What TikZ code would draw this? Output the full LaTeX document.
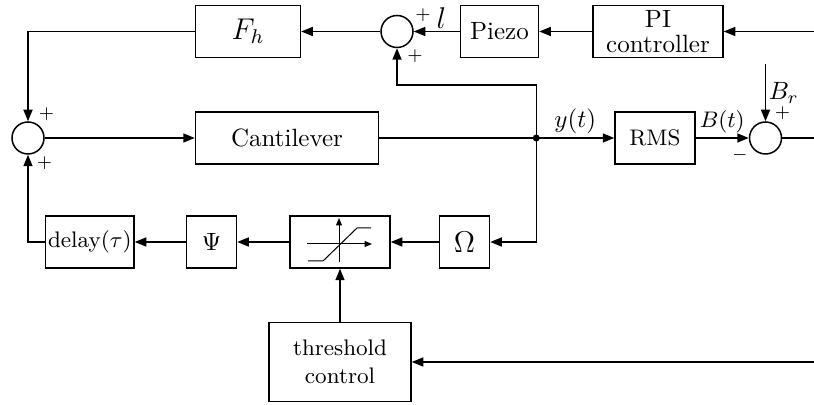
\documentclass[tikz,border=0pt]{standalone}
\usepackage{tikz}
\usetikzlibrary{positioning,arrows.meta}
\usepackage{amsmath,amssymb}

\begin{document}
\begin{tikzpicture}[>={Triangle[length=4.6pt,width=3.6pt]}, semithick,
    block/.style={draw, minimum height=20.8pt, inner sep=1pt, align=center},
    sumnode/.style={draw, circle, minimum size=12.8pt, inner sep=0pt},
    sgn/.style={font=\scriptsize, inner sep=0pt, label distance=1.2pt},
    sig/.style={inner sep=1.5pt}]
    \node (sum0) [sumnode, label={[sgn]59:$+$}, label={[sgn]-66:$+$}] {};
    \useasboundingbox (-11.2pt,55.2pt) rectangle (314.4pt,-106.8pt);
    \coordinate (edge) at (314.4pt,0);
    \node (cant) [block, minimum width=73.2pt, right=60pt of sum0] {Cantilever};
    \coordinate [right=62.8pt of cant] (j);
    \node (rms) [block, minimum width=32pt, font=\small, right=31.2pt of j] {RMS};
    \node (sum2) [sumnode, right=21.2pt of rms, label={[sgn]64:$+$}, label={[sgn]210:$-$}] {};
    \node (fh) [block, minimum width=42pt, font=\large, above=21.2pt of cant.north west, anchor=south west] {$F_h$};
    \node (sum1) [sumnode, right=31.6pt of fh, label={[sgn]27:$+$}, label={[sgn]-61:$+$}] {};
    \node (piezo) [block, minimum width=31.2pt, right=18.4pt of sum1] {Piezo};
    \node (pi) [block, minimum width=52pt, inner ysep=0pt, right=21.2pt of piezo] {PI\\[-2pt]controller};
    \coordinate [below=41.6pt of j] (jb);
    \node (omega) [block, minimum width=20pt, font=\large, left=18.4pt of jb] {$\Omega$};
    \node (sat) [block, minimum width=40pt, left=19.2pt of omega] {};
    \node (psi) [block, minimum width=20pt, left=20.8pt of sat] {$\Psi$};
    \node (delay) [block, minimum width=35.2pt, font=\small, left=20.4pt of psi] {delay$(\tau)$};
    \node (thr) [block, minimum width=56.8pt, minimum height=31.6pt, font=\small, below=21.2pt of sat] {threshold\\control};
    \coordinate [above=22.8pt of sum2.north] (br);
    \coordinate [above=21.2pt of j] (jt);

    \draw[->] (pi -| edge) -- (pi); \draw[->] (pi) -- (piezo);
    \draw[->] (piezo) -- node[above, pos=0.4, font=\large, inner sep=1pt] (lsig) {$l$} (sum1);
    \draw[->] (sum1) -- (fh); \draw[->] (fh) -| (sum0);
    \draw[->] (sum0) -- (cant); \draw (cant) -- (j);
    \draw[->] (j) -- node[above, sig] (ysig) {$y(t)$} (rms);
    \draw[->] (rms) -- node[above, sig, font=\small] (bsig) {$B(t)$} (sum2);
    \draw (sum2) -- (sum2 -| edge);
    \draw[->] (br) -- node[right, inner sep=1pt] (brsig) {$B_r$} (sum2);
    \draw[->] (j) -- (jt) -| (sum1);
    \draw[->] (j) |- (omega); \draw[->] (omega) -- (sat);
    \draw[->] (sat) -- (psi); \draw[->] (psi) -- (delay);
    \draw[->] (delay) -| (sum0);
    \draw[->] (thr) -- (sat); \draw[->] (thr -| edge) -- (thr);
    \fill (j) circle (1.4pt);

    \draw[-{Triangle[length=3pt,width=2.4pt]}, thin] ([shift={(-13.2pt,-0.8pt)}]sat.center) -- ++(26pt,0);
    \draw[-{Triangle[length=3pt,width=2.4pt]}, thin] ([shift={(-0.4pt,-8pt)}]sat.center) -- ++(0,17.6pt);
    \draw[thin] ([shift={(-12.8pt,-7.6pt)}]sat.center) -- ++(6pt,0) -- ++(13.6pt,13.2pt) -- ++(5.6pt,0);
\end{tikzpicture}
\end{document}
